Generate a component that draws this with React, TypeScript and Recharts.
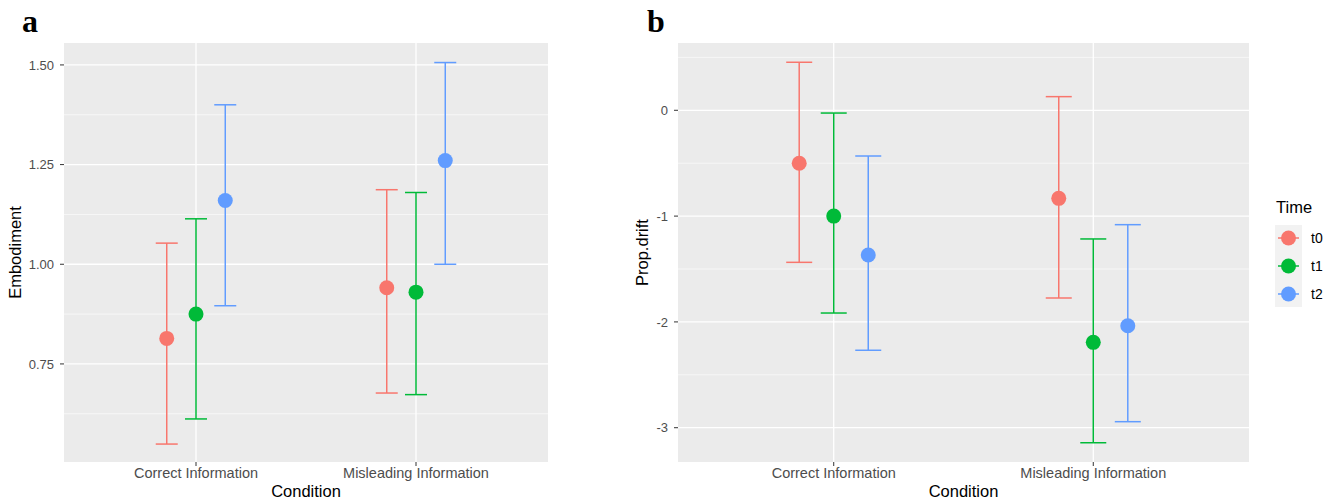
import React from "react";
import {
  CartesianGrid,
  ErrorBar,
  Scatter,
  ScatterChart,
  XAxis,
  YAxis
} from "recharts";

const conditions = ["Correct Information", "Misleading Information"];
const times = ["t0", "t1", "t2"];
const timeColors = ["#F8766D", "#00BA38", "#619CFF"];

// rows: t0, t1, t2 ; columns: conditions
const embodimentMean = [
  [0.814, 0.941],
  [0.875, 0.93],
  [1.16, 1.26]
];
const embodimentLower = [
  [0.549, 0.677],
  [0.612, 0.673],
  [0.896, 1.0]
];
const embodimentUpper = [
  [1.053, 1.187],
  [1.114, 1.18],
  [1.4, 1.506]
];

const driftMean = [
  [-0.5, -0.832],
  [-1.0, -2.193],
  [-1.368, -2.036]
];
const driftLower = [
  [-1.437, -1.774],
  [-1.916, -3.142],
  [-2.268, -2.943]
];
const driftUpper = [
  [0.454, 0.129],
  [-0.026, -1.216],
  [-0.432, -1.081]
];

const embodimentTicks = [0.75, 1, 1.25, 1.5];
const embodimentMinor = [0.625, 0.875, 1.125, 1.375];
const driftTicks = [-3, -2, -1, 0];
const driftMinor = [-2.5, -1.5, -0.5, 0.5];

const dodge = [-0.133, 0, 0.133];
const FONT = "'Liberation Sans', Arial, sans-serif";

function seriesData(mean: number[][], lower: number[][], upper: number[][], t: number) {
  return conditions.map((c, i) => ({
    condition: c,
    x: i + 1 + dodge[t],
    y: mean[t][i],
    err: [mean[t][i] - lower[t][i], upper[t][i] - mean[t][i]]
  }));
}

const yTitle = (text: string, x: number) => (props: any) => {
  const vb = props.viewBox || {};
  const cy = vb.y + vb.height / 2;
  return (
    <text
      x={x}
      y={cy}
      transform={`rotate(-90, ${x}, ${cy})`}
      textAnchor="middle"
      fontSize={16.5}
      fontFamily={FONT}
      fill="#000"
    >
      {text}
    </text>
  );
};

type PanelProps = {
  width: number;
  marginLeft: number;
  marginRight: number;
  mean: number[][];
  lower: number[][];
  upper: number[][];
  domain: [number, number];
  ticks: number[];
  minor: number[];
  fmt: (v: number) => string;
  yLabel: string;
  yLabelX: number;
  capHalf: number;
};

function Panel(p: PanelProps) {
  return (
    <ScatterChart
      width={p.width}
      height={501}
      margin={{ top: 43, right: p.marginRight, bottom: 17, left: p.marginLeft }}
    >
      <CartesianGrid
        fill="#EBEBEB"
        stroke="#FFFFFF"
        strokeWidth={0.6}
        vertical={false}
        horizontalValues={p.minor}
      />
      <CartesianGrid
        stroke="#FFFFFF"
        strokeWidth={1.3}
        horizontalValues={p.ticks}
        verticalValues={[1, 2]}
      />
      <XAxis
        type="number"
        dataKey="x"
        domain={[0.4, 2.6]}
        ticks={[1, 2]}
        allowDataOverflow
        height={22}
        axisLine={false}
        tickSize={4}
        tickMargin={2}
        tickLine={{ stroke: "#333333" }}
        tick={{ fill: "#4D4D4D", fontSize: 14.5, fontFamily: FONT }}
        tickFormatter={(v: number) => conditions[Math.round(v) - 1]}
        label={{
          value: "Condition",
          position: "bottom",
          offset: 1,
          fill: "#000",
          fontSize: 16.5,
          fontFamily: FONT
        }}
      />
      <YAxis
        type="number"
        dataKey="y"
        domain={p.domain}
        ticks={p.ticks}
        allowDataOverflow
        width={40}
        axisLine={false}
        tickSize={4}
        tickMargin={6}
        tickLine={{ stroke: "#333333" }}
        tick={{ fill: "#4D4D4D", fontSize: 13, fontFamily: FONT }}
        tickFormatter={p.fmt}
        label={{ content: yTitle(p.yLabel, p.yLabelX) }}
      />
      {times.map((t, ti) => (
        <Scatter
          key={t}
          name={t}
          data={seriesData(p.mean, p.lower, p.upper, ti)}
          fill={timeColors[ti]}
          isAnimationActive={false}
          shape={(s: any) => <circle cx={s.cx} cy={s.cy} r={7.5} fill={timeColors[ti]} />}
        >
          <ErrorBar
            dataKey="err"
            direction="y"
            width={p.capHalf}
            stroke={timeColors[ti]}
            strokeWidth={1.5}
          />
        </Scatter>
      ))}
    </ScatterChart>
  );
}

function TimeLegend() {
  return (
    <svg width={80} height={120} style={{ position: "absolute", left: 1260, top: 190 }}>
      <text x={16} y={23} fontSize={16.5} fontFamily={FONT} fill="#000">
        Time
      </text>
      <rect x={15} y={35} width={27} height={82} fill="#F2F2F2" />
      {times.map((t, i) => {
        const cy = 48 + i * 28;
        return (
          <g key={t}>
            <line x1={18} x2={39} y1={cy} y2={cy} stroke={timeColors[i]} strokeWidth={1.5} />
            <circle cx={28.5} cy={cy} r={7.5} fill={timeColors[i]} />
            <text x={51} y={cy + 5} fontSize={14} fontFamily={FONT} fill="#000">
              {t}
            </text>
          </g>
        );
      })}
    </svg>
  );
}

export default function App() {
  return (
    <div
      style={{
        position: "absolute",
        left: 0,
        top: 0,
        width: 1326,
        height: 501,
        background: "#FFFFFF",
        overflow: "hidden"
      }}
    >
      <div style={{ position: "absolute", left: 0, top: 0 }}>
        <Panel
          width={560}
          marginLeft={24}
          marginRight={12}
          mean={embodimentMean}
          lower={embodimentLower}
          upper={embodimentUpper}
          domain={[0.504, 1.555]}
          ticks={embodimentTicks}
          minor={embodimentMinor}
          fmt={(v) => v.toFixed(2)}
          yLabel="Embodiment"
          yLabelX={21}
          capHalf={11}
        />
      </div>
      <div style={{ position: "absolute", left: 580, top: 0 }}>
        <Panel
          width={680}
          marginLeft={58}
          marginRight={11}
          mean={driftMean}
          lower={driftLower}
          upper={driftUpper}
          domain={[-3.324, 0.636]}
          ticks={driftTicks}
          minor={driftMinor}
          fmt={(v) => String(v)}
          yLabel="Prop.drift"
          yLabelX={68}
          capHalf={13}
        />
      </div>
      <TimeLegend />
      <svg width={1326} height={45} style={{ position: "absolute", left: 0, top: 0 }}>
        <text x={22} y={32} fontSize={32} fontWeight="bold" fontFamily="'Liberation Serif', serif">
          a
        </text>
        <text x={647} y={32} fontSize={32} fontWeight="bold" fontFamily="'Liberation Serif', serif">
          b
        </text>
      </svg>
    </div>
  );
}
